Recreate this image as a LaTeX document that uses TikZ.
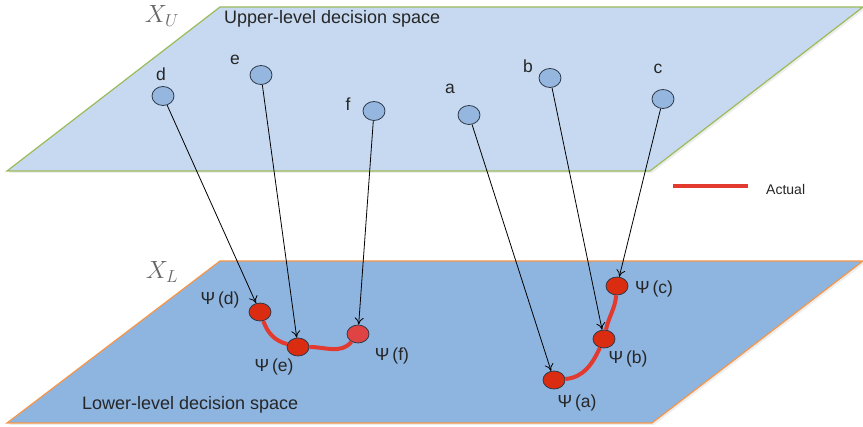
\documentclass[tikz,border=0pt]{standalone}
\usepackage{fontspec}
\setmainfont{Liberation Sans}
\usetikzlibrary{shapes.geometric,arrows.meta}
\definecolor{upfill}{HTML}{C6D9F1}
\definecolor{upedge}{HTML}{9BBB59}
\definecolor{lofill}{HTML}{8EB4E0}
\definecolor{loedge}{HTML}{F79646}
\definecolor{topnode}{HTML}{95B6DF}
\definecolor{nodeedge}{HTML}{2E3A4A}
\definecolor{rednode}{HTML}{D92C10}
\definecolor{rednodeb}{HTML}{E04343}
\definecolor{redline}{HTML}{E23A2E}
\begin{document}
\begin{tikzpicture}[x=1pt,y=-1pt,
  lbl/.style={font=\fontsize{17.5}{20}\selectfont, text=black!85, inner sep=0pt},
  biglbl/.style={font=\fontsize{18}{21}\selectfont, text=black!85, inner sep=0pt},
  upnode/.style={ellipse, draw=nodeedge, line width=0.8pt, fill=topnode, minimum width=22pt, minimum height=19pt, inner sep=0pt},
  lownode/.style={ellipse, draw=nodeedge, line width=0.8pt, fill=rednode, minimum width=22pt, minimum height=18pt, inner sep=0pt},
  maparrow/.style={-{To[length=7pt,width=9pt]}, line width=0.8pt, black},
  actual/.style={line width=4pt, redline},
  planelbl/.style={font=\fontsize{25}{28}\selectfont, text=black!60, inner sep=0pt}]
\useasboundingbox (0,0) rectangle (863,427);
% planes
\fill[black!7] (9,173) -- (652,173) -- (865,9) -- (222,9) -- cycle;
\path[fill=upfill, draw=upedge, line width=1.2pt] (7,171) -- (650,171) -- (863,7) -- (220,7) -- cycle;
\fill[black!7] (9,425) -- (654,425) -- (865,263) -- (222,263) -- cycle;
\path[fill=lofill, draw=loedge, line width=1.2pt] (7,423) -- (652,423) -- (863,261) -- (220,261) -- cycle;
% plane labels
\node[planelbl] (xu) at (162,16) {$X_U$};
\node[planelbl] (xl) at (162,272) {$X_L$};
\node[biglbl, anchor=west] (uptext) at (224,19) {Upper-level decision space};
\node[biglbl, anchor=west] (lotext) at (82,405) {Lower-level decision space};
% upper nodes
\node[upnode] (d) at (163,96) {};
\node[upnode] (e) at (261,75) {};
\node[upnode] (f) at (374,111) {};
\node[upnode] (a) at (469,115) {};
\node[upnode] (b) at (550,78) {};
\node[upnode] (c) at (663,99) {};
\node[lbl] (ld) at (161,74) {d};
\node[lbl] (le) at (235,60) {e};
\node[lbl] (lf) at (348,104) {f};
\node[lbl] (la) at (450,89) {a};
\node[lbl] (lb) at (528,66) {b};
\node[lbl] (lc) at (658,69) {c};
% lower nodes
\node[lownode] (pd) at (260,312) {};
\node[lownode] (pe) at (298,347) {};
\node[lownode, fill=rednodeb] (pf) at (358,334) {};
\node[lownode] (pa) at (554,380) {};
\node[lownode] (pb) at (604,339) {};
\node[lownode] (pc) at (617,286) {};
\node[lbl] (lpd) at (220,300) {Ψ\,(d)};
\node[lbl] (lpe) at (274,367) {Ψ\,(e)};
\node[lbl] (lpf) at (392,356) {Ψ\,(f)};
\node[lbl] (lpa) at (577,403) {Ψ\,(a)};
\node[lbl] (lpb) at (628,359) {Ψ\,(b)};
\node[lbl] (lpc) at (654,289) {Ψ\,(c)};
% actual curves
\draw[actual] (pd) to[out=-70,in=165] (pe);
\draw[actual] (pe) to[out=0,in=-130] (pf);
\draw[actual] (pa) to[out=5,in=-115] (pb);
\draw[actual] (pb) to[out=78,in=-95] (pc);
% mapping arrows
\draw[maparrow] (d) -- (pd);
\draw[maparrow] (e) -- (pe);
\draw[maparrow] (f) -- (pf);
\draw[maparrow] (a) -- (pa);
\draw[maparrow] (b) -- (pb);
\draw[maparrow] (c) -- (pc);
% legend
\coordinate (leg1) at (673,186);
\coordinate (leg2) at (748,186);
\draw[actual, line width=3.5pt] (leg1) -- (leg2);
\node[font=\fontsize{14}{16}\selectfont, text=black!85, anchor=west, inner sep=0pt] (legtext) at (766,189) {Actual};
\end{tikzpicture}
\end{document}
